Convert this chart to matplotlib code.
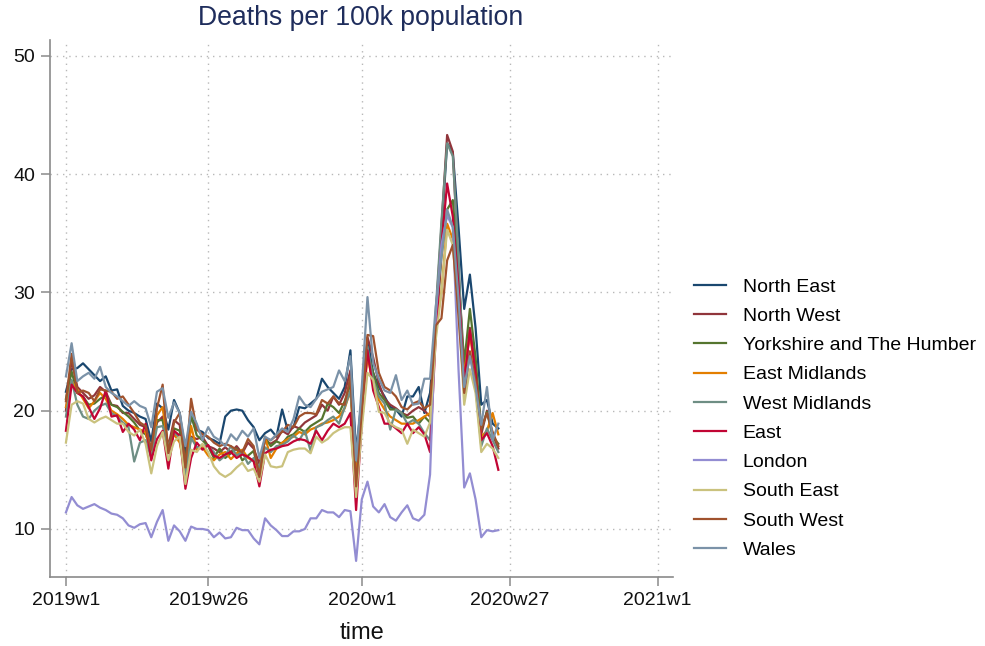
import matplotlib
matplotlib.use("Agg")
import matplotlib.pyplot as plt

# ---------------- data ----------------
weeks_2019 = list(range(1, 53))
weeks_2020 = list(range(1, 26))
tick_labels = ["2019w1", "2019w26", "2020w1", "2020w27", "2021w1"]
tick_weeks = [(2019, 1), (2019, 26), (2020, 1), (2020, 27), (2021, 1)]

north_east = [21.6, 23.5, 23.6, 24.0, 23.5, 23.0, 22.5, 22.9, 21.7, 21.8, 20.4, 20.0, 19.8, 19.5, 19.3, 17.4, 20.6, 20.2, 18.4, 20.9, 19.8, 16.4, 19.5, 18.4, 18.2, 17.7,
              17.5, 17.2, 19.5, 20.0, 20.1, 20.0, 19.2, 18.6, 17.5, 18.1, 18.4, 17.8, 20.1, 18.3, 18.6, 20.3, 20.2, 20.6, 21.0, 22.7, 22.0, 21.5, 21.0, 22.0, 25.1,
              16.5, 21.0, 26.0, 23.2, 22.0, 21.2, 20.3, 20.1, 19.5, 21.2, 21.2, 22.0, 19.8, 21.5, 27.5, 35.0, 42.6, 41.8, 35.5, 28.6, 31.5, 27.0, 20.5, 20.9, 18.9, 18.5]
north_west = [20.0, 24.3, 22.0, 21.5, 21.0, 21.3, 22.0, 21.6, 20.5, 20.4, 19.8, 19.8, 19.3, 18.8, 18.6, 16.5, 19.0, 19.5, 17.0, 19.2, 18.8, 14.6, 17.8, 17.6, 17.8, 17.0,
              16.8, 16.5, 16.9, 16.5, 17.0, 16.4, 17.3, 16.8, 15.5, 17.5, 17.2, 17.5, 18.3, 18.0, 18.7, 18.5, 19.0, 19.3, 19.6, 20.5, 20.0, 21.2, 20.5, 21.5, 23.4,
              13.0, 19.5, 26.2, 24.5, 22.3, 21.0, 20.5, 20.2, 19.8, 19.6, 20.0, 20.3, 20.0, 19.5, 28.0, 35.5, 43.3, 41.9, 32.0, 22.5, 27.0, 23.5, 18.0, 20.0, 18.0, 16.8]
yorkshire = [21.0, 23.3, 21.5, 21.2, 20.5, 20.6, 21.0, 21.3, 20.5, 20.3, 19.9, 19.5, 19.0, 18.3, 18.0, 16.8, 19.2, 19.2, 16.5, 18.5, 18.3, 15.8, 19.6, 17.9, 17.5, 17.0,
             16.0, 16.8, 16.0, 16.4, 16.8, 15.8, 16.2, 16.6, 14.5, 17.7, 17.0, 17.4, 17.2, 17.8, 18.0, 18.5, 18.2, 18.7, 19.0, 19.3, 20.6, 20.3, 19.8, 20.8, 22.3,
             14.5, 19.8, 25.0, 23.2, 21.5, 20.9, 20.1, 20.1, 19.8, 19.4, 19.5, 18.9, 19.5, 19.0, 26.5, 33.0, 37.0, 37.8, 31.5, 24.0, 28.6, 24.5, 18.4, 19.9, 17.8, 17.2]
east_midlands = [20.3, 22.5, 21.8, 21.0, 20.2, 20.8, 21.5, 21.0, 20.0, 19.7, 19.3, 18.8, 18.6, 18.4, 18.2, 16.2, 19.6, 20.3, 16.7, 18.0, 17.3, 14.7, 18.7, 16.7, 16.9, 16.2,
                 15.8, 16.3, 16.5, 15.9, 16.4, 16.7, 16.0, 15.8, 15.0, 17.8, 16.0, 16.8, 17.3, 17.6, 17.8, 18.2, 18.0, 18.4, 18.6, 18.9, 19.0, 19.2, 19.5, 20.2, 21.7,
                 14.4, 19.5, 24.6, 22.3, 20.9, 20.1, 19.5, 19.2, 18.9, 18.9, 18.9, 19.2, 19.5, 19.8, 27.0, 30.0, 35.8, 34.5, 29.0, 23.0, 26.5, 23.0, 17.8, 18.3, 19.8, 18.0]
west_midlands = [19.5, 22.6, 20.5, 19.5, 19.3, 20.0, 20.4, 20.6, 19.8, 19.5, 19.0, 18.6, 15.7, 17.3, 17.5, 16.0, 18.6, 18.7, 17.0, 18.2, 17.7, 14.5, 17.7, 16.9, 17.1, 17.0,
                 16.5, 15.8, 16.2, 17.0, 16.2, 16.5, 15.5, 16.0, 15.2, 16.9, 16.5, 17.0, 17.1, 17.4, 17.9, 17.5, 18.3, 16.6, 18.6, 18.8, 19.2, 19.5, 18.9, 20.3, 21.7,
                 15.7, 20.5, 25.4, 22.6, 21.2, 20.6, 18.4, 20.1, 19.8, 18.9, 19.2, 18.9, 18.1, 17.5, 28.5, 36.0, 42.6, 41.5, 33.0, 21.5, 25.0, 22.0, 17.0, 18.5, 17.5, 16.5]
east = [18.3, 22.2, 21.5, 21.2, 20.3, 19.3, 20.2, 21.7, 19.5, 19.6, 18.2, 18.9, 18.4, 17.5, 18.9, 15.8, 17.6, 18.3, 15.1, 18.3, 17.9, 13.4, 16.0, 17.3, 16.7, 17.1,
        16.2, 16.0, 16.3, 16.5, 16.0, 16.3, 16.1, 15.7, 13.6, 16.4, 16.7, 16.8, 17.0, 17.1, 17.4, 17.6, 17.5, 17.2, 18.3, 17.5, 18.3, 18.9, 18.6, 18.9, 19.8,
        11.6, 19.0, 25.1, 21.7, 20.3, 18.9, 18.9, 18.5, 18.1, 18.9, 18.1, 18.6, 18.0, 16.5, 26.3, 33.9, 39.2, 36.4, 30.5, 22.3, 26.8, 23.2, 17.5, 18.1, 17.0, 15.0]
london = [11.4, 12.7, 12.0, 11.7, 11.9, 12.1, 11.8, 11.6, 11.3, 11.2, 10.9, 10.3, 10.1, 10.4, 10.5, 9.3, 10.6, 11.6, 9.0, 10.3, 9.8, 9.0, 10.2, 10.0, 10.0, 9.9,
          9.3, 9.7, 9.2, 9.3, 10.1, 9.9, 9.9, 9.2, 8.7, 10.9, 10.3, 9.9, 9.4, 9.4, 9.8, 9.8, 10.0, 10.9, 10.9, 11.6, 11.4, 11.4, 11.0, 11.6, 11.5,
          7.3, 12.5, 14.0, 11.9, 11.4, 12.1, 11.0, 10.7, 11.4, 12.0, 10.9, 10.7, 11.2, 14.6, 28.0, 34.0, 36.5, 35.5, 23.5, 13.5, 14.7, 12.5, 9.3, 9.9, 9.8, 9.9]
south_east = [17.3, 20.5, 20.8, 20.6, 19.3, 19.0, 19.3, 19.5, 19.2, 18.9, 18.9, 18.2, 17.9, 18.4, 17.2, 14.7, 17.0, 18.2, 15.8, 17.4, 17.8, 13.8, 16.7, 16.5, 17.2, 16.5,
              15.3, 14.7, 14.4, 14.7, 15.2, 15.6, 14.9, 15.1, 14.0, 16.3, 15.3, 15.2, 15.3, 16.5, 16.7, 16.8, 16.8, 16.4, 17.8, 17.3, 17.6, 18.1, 18.4, 18.6, 18.6,
              12.7, 18.5, 23.2, 22.6, 19.9, 19.8, 18.9, 18.6, 18.4, 17.2, 18.4, 18.1, 17.8, 19.0, 26.0, 30.0, 35.3, 34.0, 28.5, 20.5, 23.5, 21.5, 16.5, 17.2, 16.8, 16.0]
south_west = [20.8, 24.8, 21.5, 21.7, 21.5, 20.8, 21.8, 21.7, 21.6, 21.0, 21.2, 20.5, 19.8, 19.0, 18.7, 16.7, 20.2, 22.2, 16.4, 19.0, 19.8, 15.2, 21.0, 18.4, 18.0, 17.8,
              17.3, 17.0, 17.2, 17.0, 16.7, 16.5, 17.6, 17.0, 14.4, 17.7, 17.5, 17.9, 18.2, 18.8, 18.6, 19.5, 19.8, 19.8, 19.7, 20.9, 20.6, 21.2, 20.6, 20.5, 22.9,
              13.6, 20.0, 26.4, 26.3, 23.2, 22.0, 21.7, 21.2, 20.3, 20.1, 20.6, 20.8, 20.2, 20.5, 27.2, 27.8, 32.7, 34.0, 28.0, 21.5, 25.0, 22.5, 18.5, 19.8, 18.2, 17.0]
wales = [22.9, 25.7, 22.5, 22.9, 23.2, 22.7, 23.7, 22.0, 21.5, 21.2, 20.8, 20.4, 20.8, 20.4, 20.2, 18.6, 21.6, 21.9, 19.4, 20.7, 19.8, 17.0, 19.9, 18.9, 17.5, 18.6,
         17.8, 17.5, 17.0, 18.0, 17.5, 18.3, 17.8, 18.5, 16.0, 17.8, 17.5, 18.0, 18.5, 18.2, 19.3, 21.2, 20.5, 20.3, 21.0, 21.6, 21.8, 22.0, 23.4, 22.5, 24.6,
         15.8, 22.0, 29.6, 24.0, 22.7, 21.7, 21.5, 23.0, 20.9, 21.7, 20.5, 20.6, 22.7, 22.7, 28.8, 33.0, 37.0, 35.5, 29.5, 22.0, 24.6, 22.0, 18.8, 22.0, 17.5, 18.9]

region_names = ["North East", "North West", "Yorkshire and The Humber", "East Midlands",
                "West Midlands", "East", "London", "South East", "South West", "Wales"]
region_values = [north_east, north_west, yorkshire, east_midlands, west_midlands,
                 east, london, south_east, south_west, wales]
region_colors = ["#1a476f", "#90353b", "#55752f", "#e37e00", "#6e8e84",
                 "#c10534", "#938dd2", "#cac27e", "#a0522d", "#7b92a8"]

# Stata-like weekly date: 52 weeks per year
def wk(year, week):
    return (year - 2019) * 52 + (week - 1)

x = [wk(2019, w) for w in weeks_2019] + [wk(2020, w) for w in weeks_2020]
tick_pos = [wk(y, w) for y, w in tick_weeks]

# ---------------- figure ----------------
plt.rcParams['font.family'] = ['Liberation Sans', 'DejaVu Sans']
fig = plt.figure(figsize=(9.85, 6.46), dpi=100)
ax = fig.add_axes([50 / 985, 1 - 577 / 646, (673 - 50) / 985, (577 - 40) / 646])

for name, vals, col in zip(region_names, region_values, region_colors):
    ax.plot(x, vals, color=col, lw=1.6, label=name, solid_joinstyle='round')

ax.set_xlim(-2.8, 106.7)
ax.set_ylim(5.94, 51.33)
ax.set_xticks(tick_pos)
ax.set_xticklabels(tick_labels)
ax.set_yticks([10, 20, 30, 40, 50])

gridc = "#b8b8b8"
ax.grid(True, which='major', color=gridc, linestyle=(0, (1, 3.5)), lw=1.0)
ax.set_axisbelow(True)
for s in ['top', 'right']:
    ax.spines[s].set_visible(False)
for s in ['left', 'bottom']:
    ax.spines[s].set_color('#8a8a8a')
    ax.spines[s].set_linewidth(1.2)
ax.tick_params(axis='both', colors='#8a8a8a', length=6.5, width=1.1,
               labelsize=14, labelcolor='#111111', pad=4.3)

ax.set_xlabel("time", fontsize=17, color='#111111', labelpad=9.5)
fig.text(361 / 985, 1 - 18 / 646, "Deaths per 100k population", ha='center', va='center',
         fontsize=19.2, color='#1f2d5c')

handles, labels = ax.get_legend_handles_labels()
fig.legend(handles, labels, loc='center left', bbox_to_anchor=(694 / 985, 1 - 418.5 / 646),
           frameon=False, fontsize=14, handlelength=1.65, handletextpad=0.85,
           labelspacing=0.6, borderaxespad=0, borderpad=0)

fig.savefig("out.png", dpi=100, facecolor='white')
